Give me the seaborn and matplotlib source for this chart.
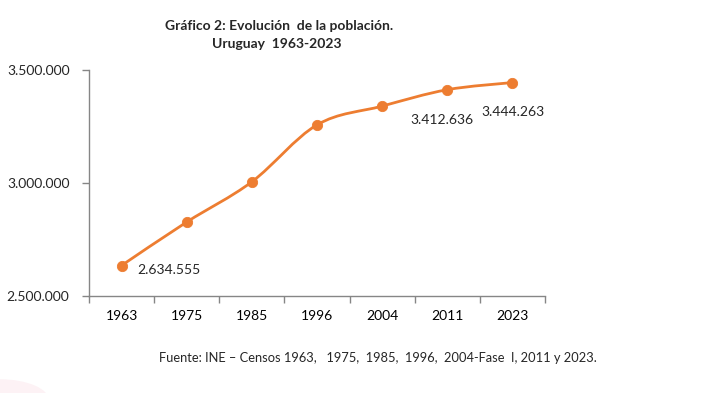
import numpy as np
import pandas as pd
import matplotlib.pyplot as plt
import seaborn as sns
from matplotlib.path import Path
from matplotlib.patches import PathPatch, Ellipse
from matplotlib.ticker import FuncFormatter, FixedLocator

# Data
years = ['1963', '1975', '1985', '1996', '2004', '2011', '2023']
population = [2634555, 2827000, 3005000, 3257000, 3340000, 3412636, 3444263]
labeled = {0: '2.634.555', 5: '3.412.636', 6: '3.444.263'}

orange = '#ED7D31'
grey = '#868686'

sns.set_style('white')
plt.rcParams['font.family'] = ['Lato', 'DejaVu Sans']

df = pd.DataFrame({'Año': years, 'Población': population})

fig = plt.figure(figsize=(7.06, 3.93), dpi=100)
ax = fig.add_axes([0.126, 0.247, 0.646, 0.575])

# smoothed line (Excel style bezier through the points)
x = np.arange(len(years), dtype=float)
y = np.array(population, dtype=float)
verts = [(x[0], y[0])]
codes = [Path.MOVETO]
n = len(x)
for i in range(n - 1):
    p0 = (x[i - 1], y[i - 1]) if i > 0 else (x[i], y[i])
    p3 = (x[i + 2], y[i + 2]) if i + 2 < n else (x[i + 1], y[i + 1])
    c1 = (x[i] + (x[i + 1] - p0[0]) / 6, y[i] + (y[i + 1] - p0[1]) / 6)
    c2 = (x[i + 1] - (p3[0] - x[i]) / 6, y[i + 1] - (p3[1] - y[i]) / 6)
    verts += [c1, c2, (x[i + 1], y[i + 1])]
    codes += [Path.CURVE4] * 3
ax.add_patch(PathPatch(Path(verts, codes), facecolor='none', edgecolor=orange, lw=2, zorder=2))

sns.scatterplot(data=df, x='Año', y='Población', ax=ax, color=orange, s=55,
                edgecolor=orange, zorder=3)

ax.set_xlim(-0.5, len(years) - 0.5)
ax.set_ylim(2500000, 3500000)
ax.yaxis.set_major_locator(FixedLocator([2500000, 3000000, 3500000]))
ax.yaxis.set_major_formatter(FuncFormatter(lambda v, p: f'{int(v):,}'.replace(',', '.')))
ax.set_xticks(range(len(years)))
ax.set_xticklabels(years)
ax.set_xticks(np.arange(-0.5, len(years)), minor=True)
ax.tick_params(axis='x', which='major', length=0, pad=10, labelsize=10, colors='black')
ax.tick_params(axis='x', which='minor', length=5, width=1, color=grey, direction='out')
ax.tick_params(axis='y', length=5, width=1, color=grey, direction='out', labelsize=10, pad=9)
ax.xaxis.set_tick_params(bottom=True, which='both')
ax.yaxis.set_tick_params(left=True)
ax.set_xlabel('')
ax.set_ylabel('')
for s in ['top', 'right']:
    ax.spines[s].set_visible(False)
for s in ['left', 'bottom']:
    ax.spines[s].set_color(grey)
    ax.spines[s].set_linewidth(1)

# data labels
ax.annotate(labeled[0], (0, population[0]), xytext=(11, -3), textcoords='offset points',
            fontsize=10, va='center', ha='left')
ax.annotate(labeled[5], (5, population[5]), xytext=(-4, -22), textcoords='offset points',
            fontsize=10, va='center', ha='center')
ax.annotate(labeled[6], (6, population[6]), xytext=(0, -21), textcoords='offset points',
            fontsize=10, va='center', ha='center')

fig.text(0.395, 0.935, 'Gráfico 2: Evolución  de la población.', ha='center', va='center',
         fontsize=10, fontweight='bold')
fig.text(0.392, 0.887, 'Uruguay  1963-2023', ha='center', va='center',
         fontsize=10, fontweight='bold')
fig.text(0.535, 0.088, 'Fuente: INE – Censos 1963,   1975,  1985,  1996,  2004-Fase  I, 2011 y 2023.',
         ha='center', va='center', fontsize=9.3)

# faint decorative arc in the lower left corner
fig.patches.append(Ellipse((0.0, -0.02), 0.14, 0.11, transform=fig.transFigure,
                           facecolor='#fdf2f5', edgecolor='none', zorder=0))

fig.savefig('out.png', dpi=100)
